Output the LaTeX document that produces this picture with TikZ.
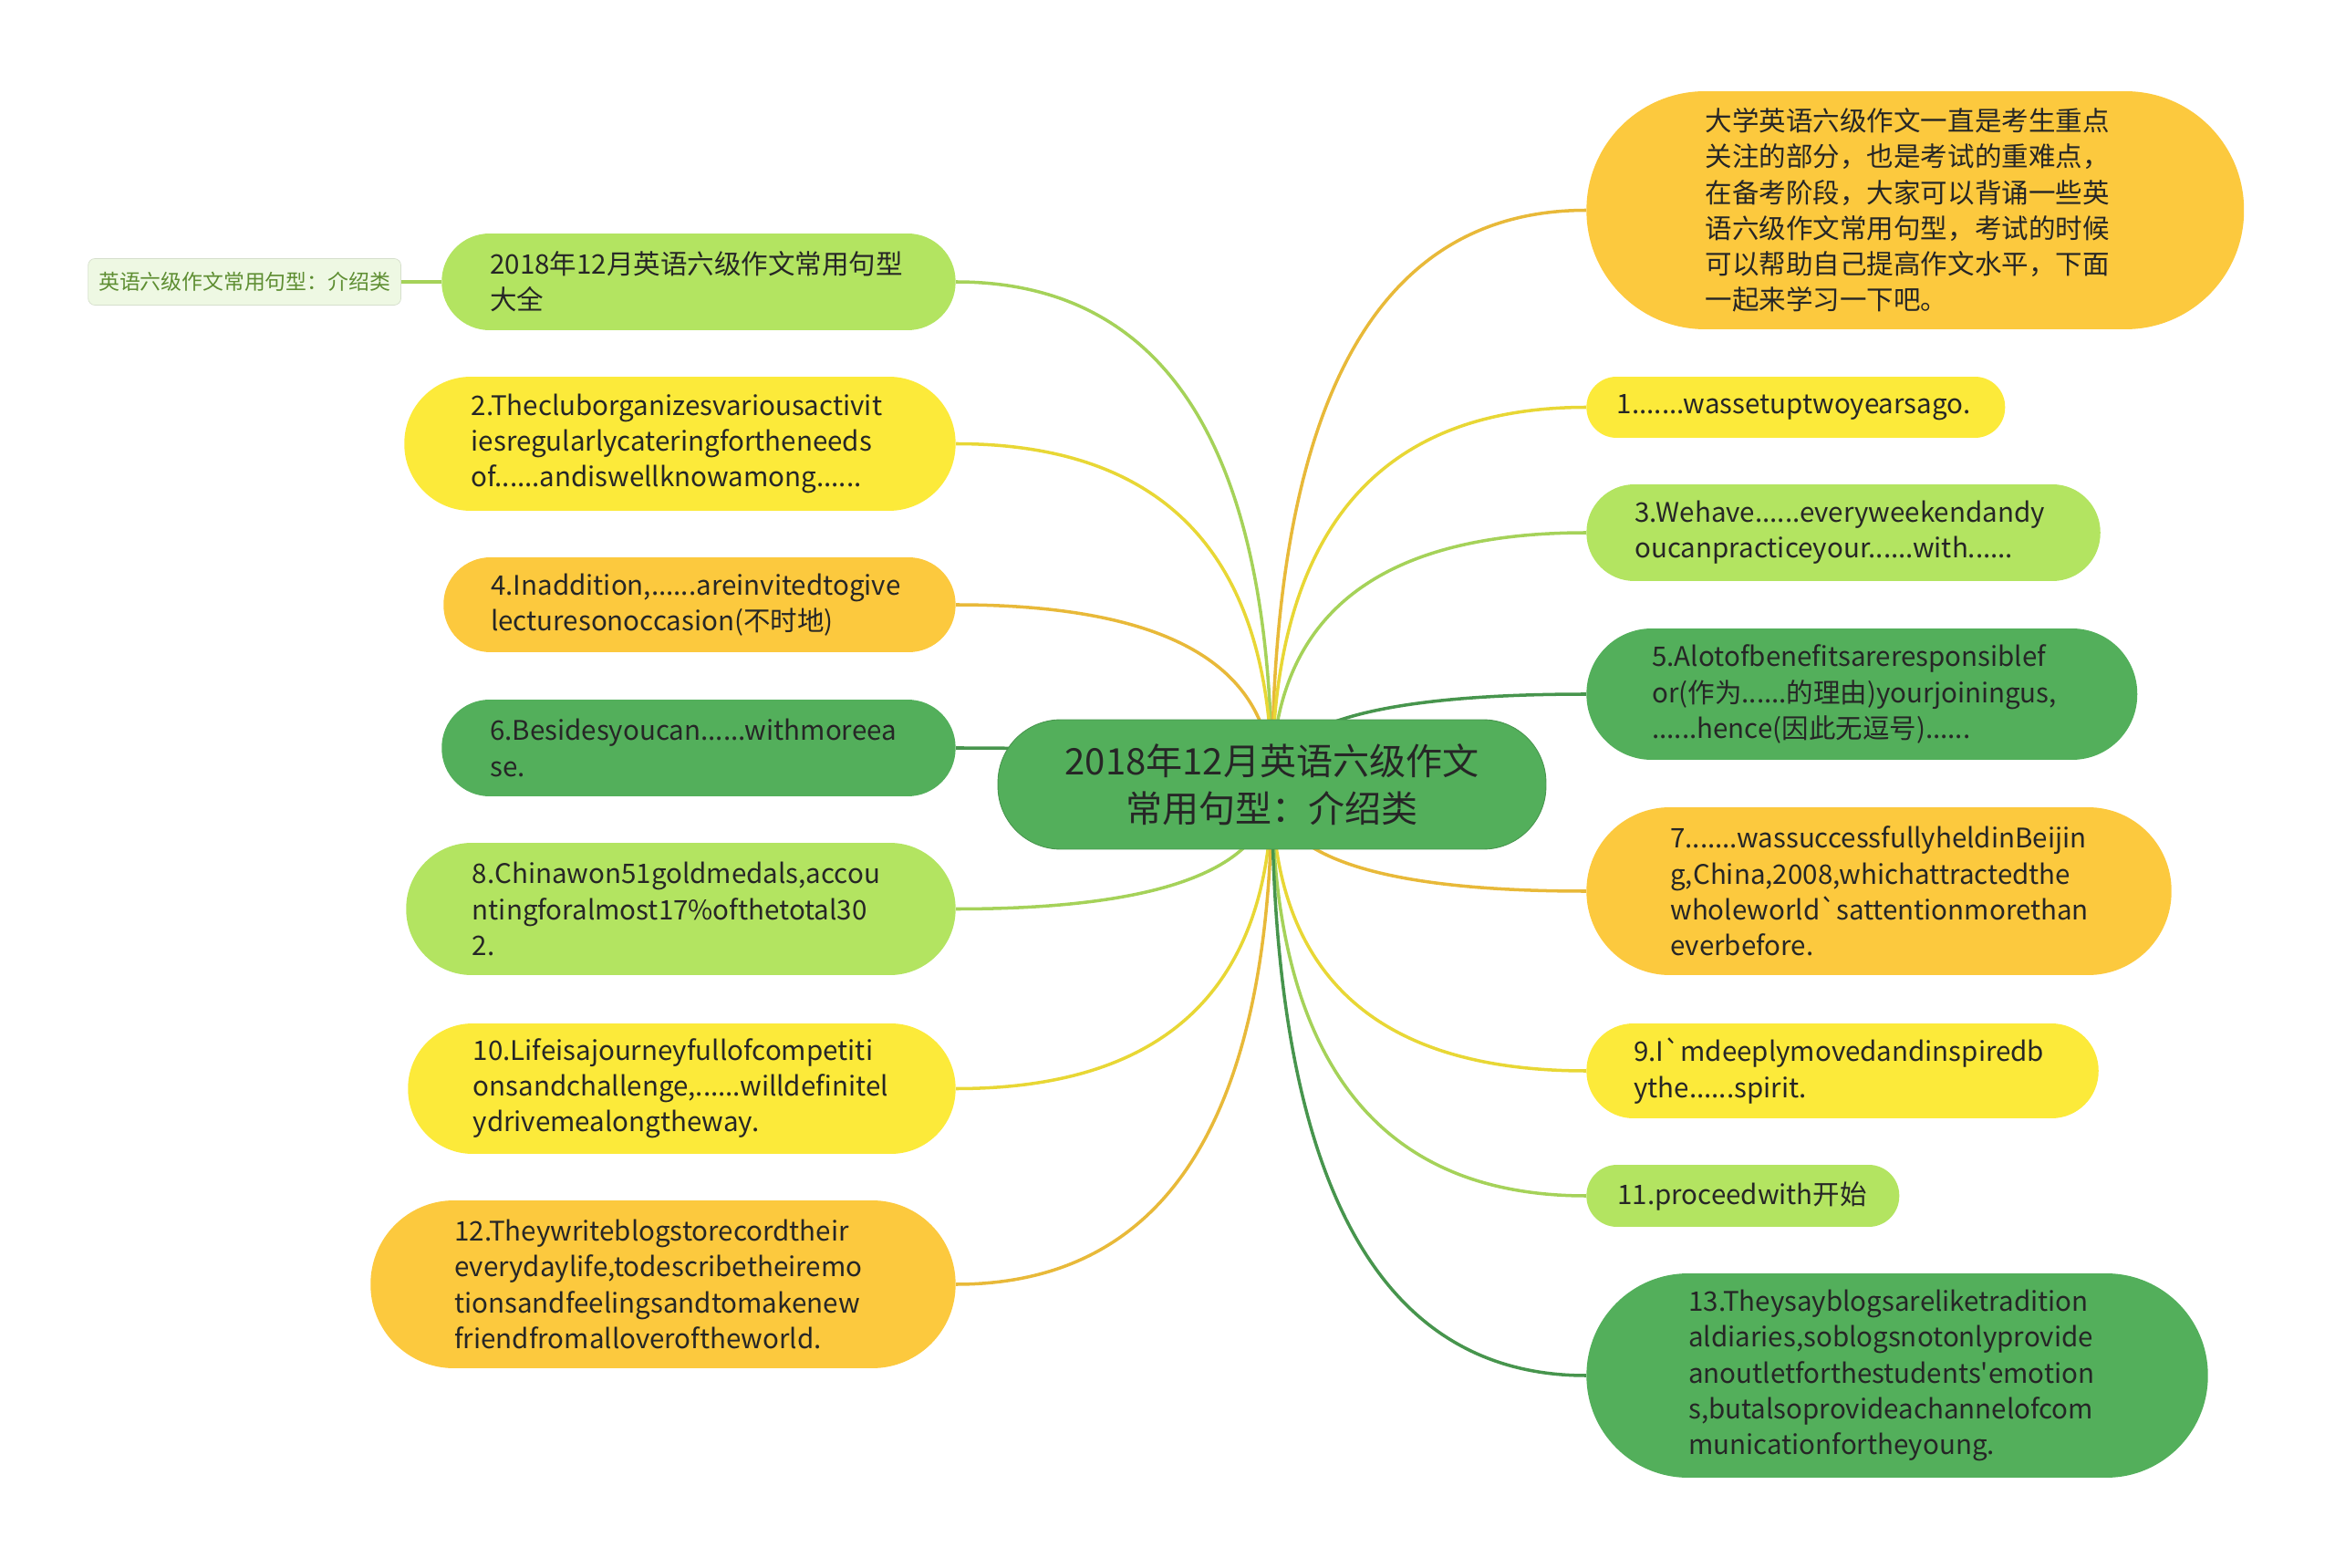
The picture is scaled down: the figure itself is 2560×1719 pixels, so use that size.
\documentclass[tikz,border=0pt]{standalone}
\usepackage{fontspec}
\setmainfont{Noto Sans CJK SC}
\usetikzlibrary{positioning,calc,backgrounds}

\definecolor{dkgreen}{HTML}{53AF5B}
\definecolor{ltgreen}{HTML}{B3E461}
\definecolor{lemon}{HTML}{FCEA3A}
\definecolor{amber}{HTML}{FCC93E}
\definecolor{inkgray}{HTML}{262626}
\definecolor{tagfill}{HTML}{EEF8E3}
\definecolor{tagtext}{HTML}{5E8E32}

\tikzset{
  leaf/.style={rectangle, minimum height=#1cm, inner xsep=#1cm/2, rounded corners=#1cm/2-0.01cm, text width=9.15cm, align=left, text=inkgray, font=\fontsize{16.8pt}{22.3pt}\selectfont},
  branch/.style={line width=2pt, to path={.. controls ($(\tikztostart)!.667!(\tikztostart |- \tikztotarget)$) and ($(\tikztotarget)!.667!(\tikztostart |- \tikztotarget)$) .. (\tikztotarget)}}
}

\begin{document}
\begin{tikzpicture}[x=0.02cm, y=-0.02cm]
\useasboundingbox (0,0) rectangle (2560,1719);
\node[rectangle, fill=dkgreen, draw=dkgreen!85!black, line width=0.5pt, minimum height=2.84cm, inner xsep=1.42cm, rounded corners=1.38cm, text width=9.18cm, align=center, text=inkgray, font=\fontsize{22.8pt}{29.6pt}\selectfont] (topic) at (1394.5,860) {2018年12月英语六级作文\\常用句型：介绍类};

\node[leaf=2.12, fill=ltgreen, anchor=east] (whole) at (1048,309) {2018年12月英语六级作文常用句型\\大全};
\node[leaf=2.94, fill=lemon, anchor=east] (s2) at (1048,486.5) {2.Thecluborganizesvariousactivit\\iesregularlycateringfortheneeds\\of......andiswellknowamong......};
\node[leaf=2.08, fill=amber, anchor=east] (s4) at (1048,663) {4.Inaddition,......areinvitedtogive\\lecturesonoccasion(不时地)};
\node[leaf=2.12, fill=dkgreen, anchor=east] (s6) at (1048,820) {6.Besidesyoucan......withmoreea\\se.};
\node[leaf=2.90, fill=ltgreen, anchor=east] (s8) at (1048,996.5) {8.Chinawon51goldmedals,accou\\ntingforalmost17\%ofthetotal30\\2.};
\node[leaf=2.86, fill=lemon, anchor=east] (s10) at (1048,1193.5) {10.Lifeisajourneyfullofcompetiti\\onsandchallenge,......willdefinitel\\ydrivemealongtheway.};
\node[leaf=3.68, fill=amber, anchor=east] (s12) at (1048,1408) {12.Theywriteblogstorecordtheir\\everydaylife,todescribetheiremo\\tionsandfeelingsandtomakenew\\friendfromalloveroftheworld.};

\node[draw=tagfill!90!black, fill=tagfill, rounded corners=0.15cm, minimum width=6.86cm, minimum height=1.02cm, text=tagtext, font=\fontsize{13pt}{16pt}\selectfont, left=0.88cm of whole] (tag) {英语六级作文常用句型：介绍类};

\node[leaf=5.22, fill=amber, text width=9.2cm, anchor=west] (intro) at (1739,230.5) {大学英语六级作文一直是考生重点\\关注的部分，也是考试的重难点，\\在备考阶段，大家可以背诵一些英\\语六级作文常用句型，考试的时候\\可以帮助自己提高作文水平，下面\\一起来学习一下吧。};
\node[leaf=1.34, fill=lemon, text width=7.84cm, anchor=west] (s1) at (1739,446.5) {1.......wassetuptwoyearsago.};
\node[leaf=2.12, fill=ltgreen, anchor=west] (s3) at (1739,584) {3.Wehave......everyweekendandy\\oucanpracticeyour......with......};
\node[leaf=2.88, fill=dkgreen, text width=9.2cm, anchor=west] (s5) at (1739,761) {5.Alotofbenefitsareresponsiblef\\or(作为......的理由)yourjoiningus,\\......hence(因此无逗号)......};
\node[leaf=3.68, fill=amber, anchor=west] (s7) at (1739,977) {7.......wassuccessfullyheldinBeijin\\g,China,2008,whichattractedthe\\wholeworld\textasciigrave sattentionmorethan\\everbefore.};
\node[leaf=2.08, fill=lemon, anchor=west] (s9) at (1739,1174) {9.I\textasciigrave mdeeplymovedandinspiredb\\ythe......spirit.};
\node[leaf=1.36, fill=ltgreen, text width=5.5cm, anchor=west] (s11) at (1739,1311) {11.proceedwith开始};
\node[leaf=4.48, fill=dkgreen, anchor=west] (s13) at (1739,1508) {13.Theysayblogsareliketradition\\aldiaries,soblogsnotonlyprovide\\anoutletforthestudents\textquotesingle emotion\\s,butalsoprovideachannelofcom\\municationfortheyoung.};

\begin{scope}[on background layer]
\draw[ltgreen!92!black, line width=2pt] (tag.east) -- (whole.west);
\draw[branch, ltgreen!92!black] (topic.center) to (whole.east);
\draw[branch, lemon!92!black] (topic.center) to (s2.east);
\draw[branch, amber!92!black] (topic.center) to (s4.east);
\draw[branch, dkgreen!85!black] (topic.center) to (s6.east);
\draw[branch, ltgreen!92!black] (topic.center) to (s8.east);
\draw[branch, lemon!92!black] (topic.center) to (s10.east);
\draw[branch, amber!92!black] (topic.center) to (s12.east);
\draw[branch, amber!92!black] (topic.center) to (intro.west);
\draw[branch, lemon!92!black] (topic.center) to (s1.west);
\draw[branch, ltgreen!92!black] (topic.center) to (s3.west);
\draw[branch, dkgreen!85!black] (topic.center) to (s5.west);
\draw[branch, amber!92!black] (topic.center) to (s7.west);
\draw[branch, lemon!92!black] (topic.center) to (s9.west);
\draw[branch, ltgreen!92!black] (topic.center) to (s11.west);
\draw[branch, dkgreen!85!black] (topic.center) to (s13.west);
\end{scope}
\end{tikzpicture}
\end{document}
